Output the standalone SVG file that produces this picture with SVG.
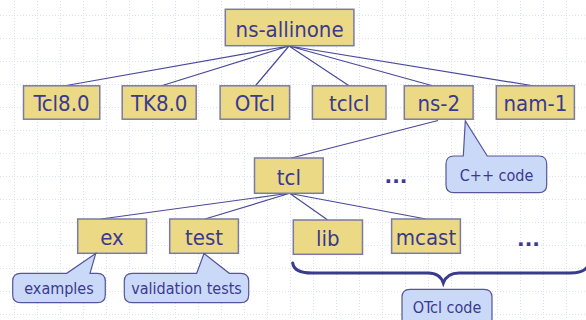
<svg xmlns="http://www.w3.org/2000/svg" width="586" height="320" viewBox="0 0 586 320">
<defs>
<pattern id="grid" patternUnits="userSpaceOnUse" x="14" y="15" width="23" height="23">
<path d="M0,0.5 H23 M0.5,0 V23" stroke="#d9dff4" stroke-width="1" stroke-dasharray="1 2" fill="none"/>
</pattern>
<style>
.box{fill:#ecd985;stroke:#7a7aa6;stroke-width:1.5}
.lbl{font-family:"DejaVu Sans Condensed","DejaVu Sans",Verdana,sans-serif;font-stretch:condensed;font-size:22px;fill:#3a3a8e;text-anchor:middle}
.call{fill:#cbd9f8;stroke:#55559c;stroke-width:1.2}
.clbl{font-family:"DejaVu Sans Condensed","DejaVu Sans",Verdana,sans-serif;font-stretch:condensed;font-size:16px;fill:#3a3a8e;text-anchor:middle}
.conn{stroke:#4a4a98;stroke-width:1.2;fill:none}
.dots{font-family:"DejaVu Sans",Verdana,sans-serif;font-size:20px;font-weight:bold;fill:#3a3a8e;text-anchor:middle}
</style>
</defs>
<rect width="586" height="320" fill="#ffffff"/>
<rect width="586" height="320" fill="url(#grid)"/>

<g id="connectors">
<path class="conn" d="M289,46 L63.5,86 M289,46 L160.7,86 M289,46 L255.2,86 M289,46 L349.4,86 M289,46 L433.5,86 M289,46 L534.4,86"/>
<path class="conn" d="M438,120.5 L291.5,158"/>
<path class="conn" d="M287,193.5 L101,219 M289,193.5 L205,219 M290,193.5 L327.7,220 M290,193.5 L426,219"/>
</g>

<g id="ns-allinone"><rect class="box" x="225.3" y="9.3" width="128.6" height="36.4"/><text class="lbl" x="289.6" y="36.7">ns-allinone</text></g>
<g id="tcl80"><rect class="box" x="23.5" y="85.8" width="76.3" height="33.4"/><text class="lbl" x="61.5" y="111.3">Tcl8.0</text></g>
<g id="tk80"><rect class="box" x="122.2" y="85.8" width="74" height="33.4"/><text class="lbl" x="159.2" y="111.3">TK8.0</text></g>
<g id="otcl"><rect class="box" x="220.1" y="85.8" width="69.5" height="33.4"/><text class="lbl" x="254.9" y="111.3">OTcl</text></g>
<g id="tclcl"><rect class="box" x="312.4" y="85.8" width="73.6" height="33.4"/><text class="lbl" x="349.2" y="111.3">tclcl</text></g>
<g id="ns-2"><rect class="box" x="404.3" y="85.8" width="68.8" height="33.4"/><text class="lbl" x="438.7" y="111.3">ns-2</text></g>
<g id="nam-1"><rect class="box" x="496.3" y="85.8" width="78.1" height="33.4"/><text class="lbl" x="535.4" y="111.3">nam-1</text></g>

<g id="tcl"><rect class="box" x="254.5" y="158" width="68.7" height="35.3"/><text class="lbl" x="288.9" y="185">tcl</text></g>
<g id="ex"><rect class="box" x="77.7" y="219" width="68.8" height="34.3"/><text class="lbl" x="112.1" y="244.5">ex</text></g>
<g id="test"><rect class="box" x="169.7" y="219" width="68.7" height="34.3"/><text class="lbl" x="204" y="244.5">test</text></g>
<g id="lib"><rect class="box" x="293.3" y="220" width="69.2" height="34.3"/><text class="lbl" x="327.9" y="245.5">lib</text></g>
<g id="mcast"><rect class="box" x="391.6" y="219" width="68.8" height="34.3"/><text class="lbl" x="426" y="244.5">mcast</text></g>

<g id="ellipsis-1"><text class="dots" x="396" y="183">...</text></g>
<g id="ellipsis-2"><text class="dots" x="528.5" y="246">...</text></g>

<g id="brace">
<path d="M292.7,263 Q294,273 312,273 L428,273 Q440,273 443.3,283 Q447,273 459,273 L570,273 Q584,273 588,266" fill="none" stroke="#3a3a8e" stroke-width="3" stroke-linecap="round"/>
</g>

<g id="cpp-callout">
<path class="call" d="M454,156 L463.3,156 L465.3,121 L487.3,156 L538.7,156 Q546.7,156 546.7,164 L546.7,184.7 Q546.7,192.7 538.7,192.7 L454,192.7 Q446,192.7 446,184.7 L446,164 Q446,156 454,156 Z"/>
<text class="clbl" x="496.5" y="180.5">C++ code</text>
</g>
<g id="examples-callout">
<path class="call" d="M20.7,273.3 L66.7,273.3 L95.7,253.5 L90,273.3 L97.3,273.3 Q105.3,273.3 105.3,281.3 L105.3,294.7 Q105.3,302.7 97.3,302.7 L20.7,302.7 Q12.7,302.7 12.7,294.7 L12.7,281.3 Q12.7,273.3 20.7,273.3 Z"/>
<text class="clbl" x="59" y="294">examples</text>
</g>
<g id="validation-callout">
<path class="call" d="M132.3,273.3 L196.7,273.3 L204,253.5 L229.3,273.3 L240.7,273.3 Q248.7,273.3 248.7,281.3 L248.7,294.7 Q248.7,302.7 240.7,302.7 L132.3,302.7 Q124.3,302.7 124.3,294.7 L124.3,281.3 Q124.3,273.3 132.3,273.3 Z"/>
<text class="clbl" x="186.5" y="294">validation tests</text>
</g>
<g id="otcl-callout">
<path class="call" d="M410,289.3 L484,289.3 Q492,289.3 492,297.3 L492,330 L402,330 L402,297.3 Q402,289.3 410,289.3 Z"/>
<text class="clbl" x="447" y="312.7">OTcl code</text>
</g>
</svg>
